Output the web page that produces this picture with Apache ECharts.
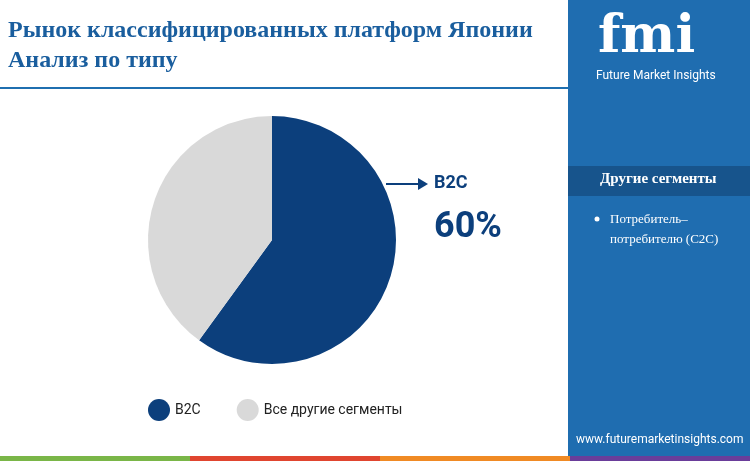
<!DOCTYPE html>
<html><head><meta charset="utf-8">
<script src="https://cdn.jsdelivr.net/npm/echarts@6/dist/echarts.min.js"></script>
<style>html,body{margin:0;padding:0}#c{width:750px;height:461px}</style>
</head><body><div id="c"></div>
<script>
const categories = ['B2C', 'Все другие сегменты'];
const values = [60, 40];
const colors = ['#0c3f7c', '#d9d9d9'];
const otherSegments = ['Потребитель–', 'потребителю (C2C)'];

const chart = echarts.init(document.getElementById('c'));
chart.setOption({
  animation: false,
  backgroundColor: '#ffffff',
  legend: {
    left: 143, top: 394, itemWidth: 22, itemHeight: 22, itemGap: 36, icon: 'circle',
    textStyle: { fontFamily: 'Roboto', fontSize: 14, color: '#222' },
    data: categories
  },
  series: [{
    type: 'pie', center: [272, 240], radius: [0, 124], startAngle: 90, clockwise: true,
    label: { show: false }, labelLine: { show: false }, silent: true,
    data: categories.map((c, i) => ({ name: c, value: values[i], itemStyle: { color: colors[i] } }))
  }],
  graphic: [
    { type: 'text', left: 8, top: 16, style: { text: 'Рынок классифицированных платформ Японии\nАнализ по типу', font: 'bold 24px "Liberation Serif"', fill: '#1a5e9e', lineHeight: 30 } },
    { type: 'rect', shape: { x: 0, y: 87, width: 568, height: 2 }, style: { fill: '#1f6fb0' } },
    { type: 'line', shape: { x1: 386, y1: 184, x2: 422, y2: 184 }, style: { stroke: '#0c3f7c', lineWidth: 2 } },
    { type: 'polygon', shape: { points: [[428,184],[418,178],[418,190]] }, style: { fill: '#0c3f7c' } },
    { type: 'text', left: 434, top: 174, style: { text: 'B2C', font: 'bold 18px Roboto', fill: '#0c3f7c' } },
    { type: 'text', left: 434, top: 210, style: { text: values[0] + '%', font: 'bold 36px Roboto', fill: '#0c3f7c' } },
    { type: 'rect', shape: { x: 568, y: 0, width: 182, height: 461 }, style: { fill: '#1f6db0' } },
    { type: 'text', left: 598, top: 12, style: { text: 'fmi', font: 'bold 52px "DejaVu Serif"', fill: '#ffffff' } },
    { type: 'text', left: 596, top: 70, style: { text: 'Future Market Insights', font: '12px Roboto', fill: '#ffffff' } },
    { type: 'rect', shape: { x: 568, y: 166, width: 182, height: 30 }, style: { fill: '#17548c' } },
    { type: 'text', left: 600, top: 172, style: { text: 'Другие сегменты', font: 'bold 15px "Liberation Serif"', fill: '#ffffff' } },
    { type: 'circle', shape: { cx: 597, cy: 219, r: 2.5 }, style: { fill: '#ffffff' } },
    { type: 'text', left: 610, top: 210, style: { text: otherSegments.join('\n'), font: '13px "Liberation Serif"', fill: '#ffffff', lineHeight: 20 } },
    { type: 'text', left: 576, top: 434, style: { text: 'www.futuremarketinsights.com', font: '12px Roboto', fill: '#ffffff' } },
    { type: 'rect', shape: { x: 0, y: 456, width: 190, height: 5 }, style: { fill: '#7ab648' } },
    { type: 'rect', shape: { x: 190, y: 456, width: 190, height: 5 }, style: { fill: '#e0452f' } },
    { type: 'rect', shape: { x: 380, y: 456, width: 190, height: 5 }, style: { fill: '#f08a24' } },
    { type: 'rect', shape: { x: 570, y: 456, width: 180, height: 5 }, style: { fill: '#6a3d9a' } }
  ]
});
</script></body></html>
